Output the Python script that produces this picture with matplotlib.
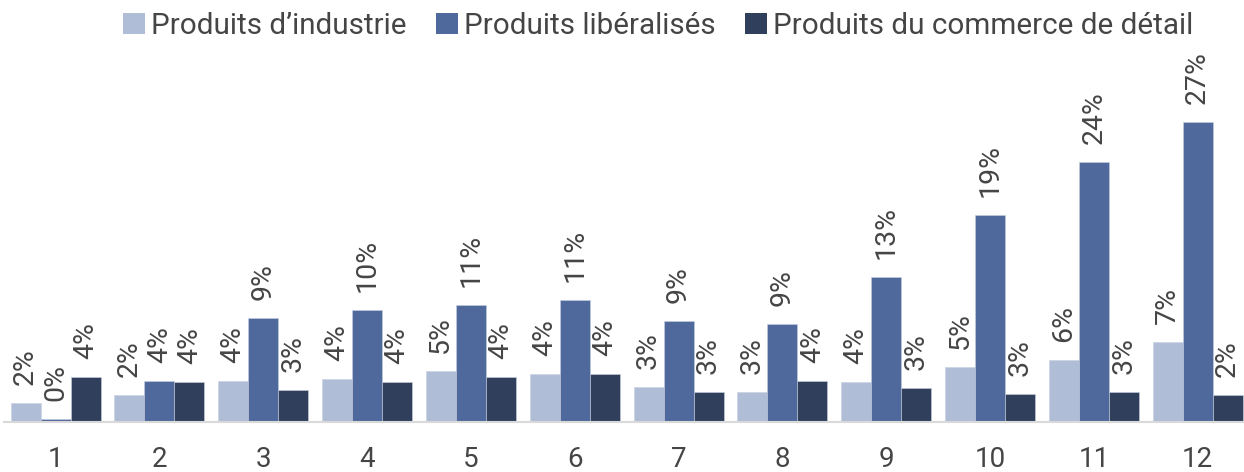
import matplotlib
matplotlib.use("Agg")
import matplotlib.pyplot as plt
import numpy as np
from matplotlib.patches import Patch

plt.rcParams['font.family'] = ['Roboto', 'DejaVu Sans']

categories = ["1", "2", "3", "4", "5", "6", "7", "8", "9", "10", "11", "12"]
series_names = ["Produits d\u2019industrie", "Produits lib\u00e9ralis\u00e9s", "Produits du commerce de d\u00e9tail"]
industrie = [1.7, 2.4, 3.7, 3.9, 4.6, 4.3, 3.2, 2.7, 3.6, 5.0, 5.6, 7.2]
liberalises = [0.3, 3.7, 9.4, 10.1, 10.6, 11.0, 9.1, 8.9, 13.1, 18.7, 23.5, 27.1]
commerce = [4.1, 3.6, 2.9, 3.6, 4.1, 4.3, 2.7, 3.7, 3.1, 2.5, 2.7, 2.4]
labels_ind = ["2%", "2%", "4%", "4%", "5%", "4%", "3%", "3%", "4%", "5%", "6%", "7%"]
labels_lib = ["0%", "4%", "9%", "10%", "11%", "11%", "9%", "9%", "13%", "19%", "24%", "27%"]
labels_com = ["4%", "4%", "3%", "4%", "4%", "4%", "3%", "4%", "3%", "3%", "3%", "2%"]

colors = ["#AFBDD7", "#4F699C", "#30405C"]
text_color = "#454545"
weight = "normal"

fig = plt.figure(figsize=(12.44, 4.72), dpi=100)
ax = fig.add_axes([3.6 / 1244, 50 / 472, 1246 / 1244, 365 / 472])

x = np.arange(len(categories))
w = 0.289
data = [industrie, liberalises, commerce]
labs = [labels_ind, labels_lib, labels_com]
for i, (vals, lb) in enumerate(zip(data, labs)):
    pos = x + (i - 1) * w
    ax.bar(pos, vals, width=w, color=colors[i], edgecolor="#C8D0E0", linewidth=0.4)
    for p, v, t in zip(pos, vals, lb):
        ax.annotate(t, (p, v), xytext=(0, 13), textcoords="offset points",
                    rotation=90, ha="center", va="bottom", fontsize=20.5,
                    color=text_color, fontweight=weight)

ax.set_xlim(-0.5, len(categories) - 0.5)
ax.set_ylim(0, 33)
ax.set_xticks(x)
ax.set_xticklabels(categories, fontsize=20, color=text_color, fontweight=weight)
ax.tick_params(axis="x", length=0, pad=17)
ax.set_yticks([])
for s in ["top", "right", "left"]:
    ax.spines[s].set_visible(False)
ax.spines["bottom"].set_color("#D9D9D9")
ax.spines["bottom"].set_linewidth(1.5)

handles = [Patch(facecolor=c, edgecolor="none") for c in colors]
leg = fig.legend(handles, series_names, loc="center", bbox_to_anchor=(0.529, 0.945), ncol=3,
                 frameon=False, prop={"size": 21.3, "weight": weight}, labelcolor=text_color,
                 handlelength=0.75, handleheight=0.75, handletextpad=0.2, columnspacing=1.0)

fig.savefig("out.png", dpi=100)
